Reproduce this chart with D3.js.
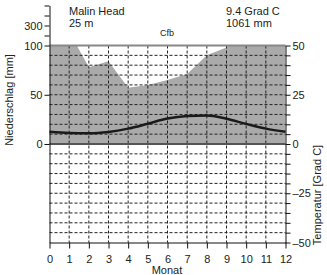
<!DOCTYPE html>
<html>
<head>
<meta charset="utf-8">
<script src="https://cdn.jsdelivr.net/npm/d3@7"></script>
<style>
  body { margin: 0; background: #fff; }
  text { font-family: "Liberation Sans", Arial, sans-serif; fill: #222; }
</style>
</head>
<body>
<div class="canvas"></div>
<script>
// climate data, Malin Head (Jan..Dec)
const station = 'Malin Head';
const altitude = '25 m';
const meanTemp = '9.4 Grad C';
const totalPrecip = '1061 mm';
const climateClass = 'Cfb';
const months = [1, 2, 3, 4, 5, 6, 7, 8, 9, 10, 11, 12];
const precip = [114, 78, 84, 57, 60, 65, 71, 90, 98, 122, 116, 112];
const temp = [5.6, 5.4, 6.1, 7.8, 10.3, 12.9, 14.2, 14.5, 12.8, 10.2, 7.8, 6.2];
const monthTicks = [0, 1, 2, 3, 4, 5, 6, 7, 8, 9, 10, 11, 12];
const precipTicks = [0, 50, 100, 200, 300, 400, 500];
const precipLabels = [0, 50, 100, 300];

const dims = { width: 327, height: 275 };

const svg = d3.select('.canvas')
    .append('svg')
    .attr('width', dims.width)
    .attr('height', dims.height);

// scales
const x = d3.scaleLinear().domain([0, 12]).range([49.5, 285.5]);
const yT = d3.scaleLinear().domain([-50, 50]).range([242.5, 45.5]);
// precipitation: 2 mm = 1 Grad C below 100 mm
const yP = d3.scaleLinear().domain([0, 100]).range([yT(0), yT(50)]);
// left axis, compressed above 100 mm
const yPax = d3.scaleLinear().domain([-100, 0, 100, 500]).range([yT(-50), yT(0), yT(50), 5.5]);

// wrap december to month 0
const pts = [{ m: 0, p: precip[11], t: temp[11] }]
    .concat(months.map((m, i) => ({ m: m, p: precip[i], t: temp[i] })));

// clip the humid area at 100 mm
svg.append('clipPath').attr('id', 'plotclip')
  .append('rect')
    .attr('x', x(0)).attr('y', yT(50))
    .attr('width', x(12) - x(0)).attr('height', yT(0) - yT(50));

svg.append('path')
    .datum(pts)
    .attr('clip-path', 'url(#plotclip)')
    .attr('fill', '#aaaaab')
    .attr('d', d3.area()
        .x(d => x(d.m))
        .y0(yT(0))
        .y1(d => yP(d.p)));

// dashed grid
const grid = svg.append('g')
    .attr('stroke', '#222')
    .attr('stroke-width', 1)
    .attr('stroke-dasharray', '3,2');

grid.selectAll('.vgrid')
    .data(d3.range(1, 12))
  .enter().append('line')
    .attr('class', 'vgrid')
    .attr('x1', d => x(d)).attr('x2', d => x(d))
    .attr('y1', yT(50)).attr('y2', yT(-50));

grid.selectAll('.hgrid')
    .data(d3.range(-45, 50, 5).filter(d => d !== 0))
  .enter().append('line')
    .attr('class', 'hgrid')
    .attr('x1', x(0)).attr('x2', x(12))
    .attr('y1', d => yT(d)).attr('y2', d => yT(d));

// 100 mm line and zero line
svg.append('line')
    .attr('x1', x(0)).attr('x2', x(12))
    .attr('y1', yT(50)).attr('y2', yT(50))
    .attr('stroke', '#888').attr('stroke-width', 2);

svg.append('line')
    .attr('x1', x(0)).attr('x2', x(12))
    .attr('y1', yT(0)).attr('y2', yT(0))
    .attr('stroke', '#555').attr('stroke-width', 2);

// temperature line
svg.append('path')
    .datum(pts)
    .attr('fill', 'none')
    .attr('stroke', '#1a1a1a')
    .attr('stroke-width', 2.5)
    .attr('d', d3.line()
        .x(d => x(d.m))
        .y(d => yT(d.t))
        .curve(d3.curveMonotoneX));

// axes
const styleAxis = g => {
    g.selectAll('.domain').attr('stroke', '#111');
    g.selectAll('.tick line').attr('stroke', '#111');
    g.selectAll('.tick text')
        .attr('fill', '#333')
        .style('font-family', '"Liberation Sans", Arial, sans-serif')
        .style('font-size', '11px');
};

svg.append('g')
    .attr('transform', `translate(${x(0)},0)`)
    .call(d3.axisLeft(yPax)
        .tickValues(precipTicks)
        .tickSize(5)
        .tickSizeOuter(0)
        .tickPadding(2)
        .tickFormat(d => precipLabels.includes(d) ? d : ''))
    .call(styleAxis);

svg.append('g')
    .attr('transform', `translate(${x(12)},0)`)
    .call(d3.axisRight(yT)
        .tickValues(d3.range(-50, 51, 5))
        .tickSize(5)
        .tickSizeOuter(0)
        .tickPadding(2)
        .tickFormat(d => d % 25 === 0 ? (d < 0 ? '\u2013' + (-d) : d) : ''))
    .call(styleAxis);

svg.append('g')
    .attr('transform', `translate(0,${yT(-50)})`)
    .call(d3.axisBottom(x)
        .tickValues(monthTicks)
        .tickSize(6)
        .tickSizeOuter(0)
        .tickPadding(7))
    .call(styleAxis);

// titles
const txt = (tx, ty, s, size, anchor) => svg.append('text')
    .attr('x', tx).attr('y', ty)
    .attr('font-size', size)
    .attr('text-anchor', anchor || 'start')
    .text(s);

txt(69, 15, station, 11);
txt(69, 27, altitude, 11);
txt(226, 15, meanTemp, 11);
txt(226, 27, totalPrecip, 11);
txt(167, 36, climateClass, 9, 'middle');
txt(167, 274, 'Monat', 11, 'middle');

svg.append('text')
    .attr('transform', 'translate(13,100) rotate(-90)')
    .attr('text-anchor', 'middle')
    .attr('font-size', 11)
    .text('Niederschlag [mm]');

svg.append('text')
    .attr('transform', 'translate(321,195) rotate(-90)')
    .attr('text-anchor', 'middle')
    .attr('font-size', 11)
    .text('Temperatur [Grad C]');
</script>
</body>
</html>
